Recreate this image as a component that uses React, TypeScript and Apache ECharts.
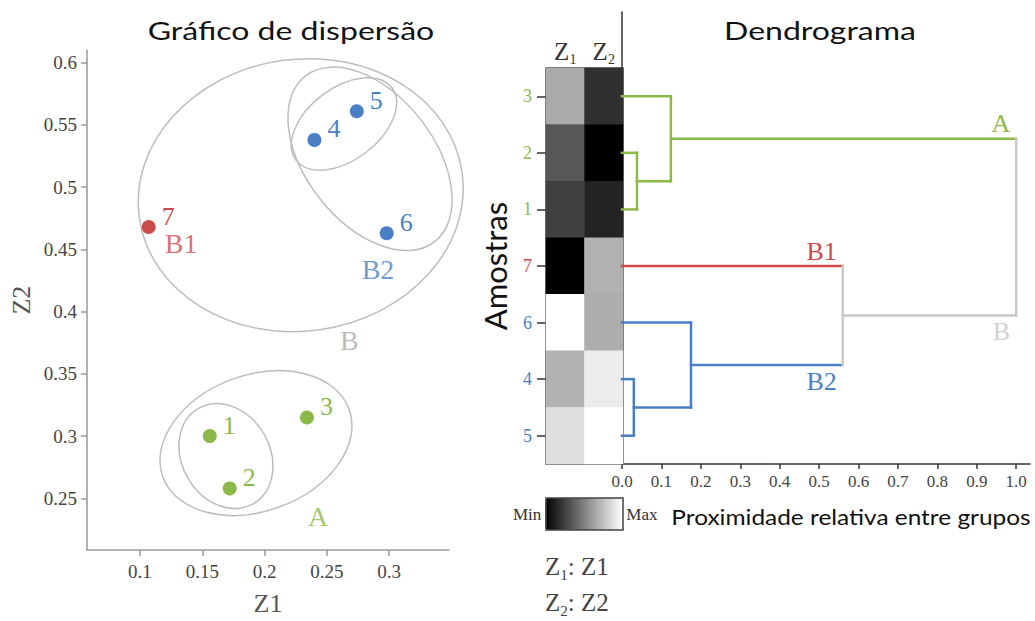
import React, { useEffect, useRef } from 'react';
import * as echarts from 'echarts';

const SERIF = 'Liberation Serif';
const SANS = 'Lato';

// Samples in the (Z1, Z2) plane
const sampleIds = ['1', '2', '3', '4', '5', '6', '7'];
const z1Values = [0.156, 0.172, 0.234, 0.24, 0.274, 0.298, 0.107];
const z2Values = [0.3, 0.258, 0.315, 0.538, 0.561, 0.463, 0.468];
const sampleGroups = ['A', 'A', 'A', 'B2', 'B2', 'B2', 'B1'];

const z1Ticks = [0.1, 0.15, 0.2, 0.25, 0.3];
const z2Ticks = [0.25, 0.3, 0.35, 0.4, 0.45, 0.5, 0.55, 0.6];

// Cluster outlines: centre (Z1, Z2), semi-axes in Z1 units, tilt in degrees
const outlineCenters = [
  [0.229, 0.4936],
  [0.2846, 0.5228],
  [0.2637, 0.5508],
  [0.1931, 0.2944],
  [0.169, 0.284],
];
const outlineAxes = [
  [0.1308, 0.1091],
  [0.0843, 0.0514],
  [0.0482, 0.0289],
  [0.0795, 0.0546],
  [0.0441, 0.0353],
];
const outlineTilt = [8, -52, 37, 20, -60];

// Cluster names placed in the scatter plane
const clusterLabelNames = ['B1', 'B2', 'B', 'A'];
const clusterLabelZ1 = [0.133, 0.291, 0.268, 0.243];
const clusterLabelZ2 = [0.4548, 0.434, 0.377, 0.2356];

// Dendrogram: leaf order (top to bottom) and merges
const leafOrder = ['3', '2', '1', '7', '6', '4', '5'];
const mergeIds = ['m21', 'm45', 'A', 'B2', 'B', 'root'];
const mergeChildren = [
  ['2', '1'],
  ['4', '5'],
  ['3', 'm21'],
  ['6', 'm45'],
  ['7', 'B2'],
  ['A', 'B'],
];
const mergeHeights = [0.038, 0.03, 0.124, 0.175, 0.56, 1.0];
const mergeGroups = ['A', 'B2', 'A', 'B2', 'B', 'root'];
const branchLabelNodes = ['A', '7', 'B2', 'B'];
const branchLabelTexts = ['A', 'B1', 'B2', 'B'];
const branchLabelSides = ['top', 'top', 'bottom', 'bottom'];

const distanceTicks = [0, 0.1, 0.2, 0.3, 0.4, 0.5, 0.6, 0.7, 0.8, 0.9, 1.0];
const heatmapColumns = ['Z1', 'Z2'];

const groupColors: Record<string, string> = {
  A: '#8DB84A',
  B1: '#CC4B4B',
  B2: '#4A7FC4',
  B: '#C9C9C9',
  root: '#C9C9C9',
};

function normalise(values: number[]): number[] {
  const mn = Math.min(...values);
  const mx = Math.max(...values);
  return values.map((v) => (v - mn) / (mx - mn));
}

function subscriptText(x: number, y: number, sub: string, tail: string) {
  return {
    type: 'text', x, y,
    style: {
      text: `{z|Z}{s|${sub}}{z|: ${tail}}`,
      align: 'left', verticalAlign: 'middle', textAlign: 'left', textVerticalAlign: 'middle',
      rich: {
        z: { fontFamily: SERIF, fontSize: 25, fill: '#444', color: '#444' },
        s: { fontFamily: SERIF, fontSize: 15, fill: '#444', color: '#444', verticalAlign: 'bottom', padding: [17, 0, 0, 0] },
      },
    },
  };
}

function buildOption() {
  const groupOf = (id: string) => sampleGroups[sampleIds.indexOf(id)];

  // scatter points
  const points = sampleIds.map((id, i) => ({
    name: id,
    value: [z1Values[i], z2Values[i]],
    itemStyle: { color: groupColors[sampleGroups[i]], opacity: 1 },
    label: { color: groupColors[sampleGroups[i]] },
  }));

  const outlines = outlineCenters.map((c, i) => [
    c[0],
    c[1],
    outlineAxes[i][0],
    outlineAxes[i][1],
    outlineTilt[i],
  ]);

  const clusterLabels = clusterLabelNames.map((n, i) => ({
    name: n,
    value: [clusterLabelZ1[i], clusterLabelZ2[i]],
    label: { color: n === 'B' ? '#ABABAB' : groupColors[n] },
  }));

  // heatmap cells, each column scaled between its own min and max
  const n1 = normalise(z1Values);
  const n2 = normalise(z2Values);
  const heatData: number[][] = [];
  leafOrder.forEach((id, row) => {
    const i = sampleIds.indexOf(id);
    heatData.push([0, row, n1[i]]);
    heatData.push([1, row, n2[i]]);
  });

  // dendrogram segments
  const nodeY: Record<string, number> = {};
  const nodeH: Record<string, number> = {};
  const nodeGroup: Record<string, string> = {};
  leafOrder.forEach((id, row) => {
    nodeY[id] = row;
    nodeH[id] = 0;
    nodeGroup[id] = groupOf(id);
  });
  mergeIds.forEach((id, k) => {
    const [a, b] = mergeChildren[k];
    nodeY[id] = (nodeY[a] + nodeY[b]) / 2;
    nodeH[id] = mergeHeights[k];
    nodeGroup[id] = mergeGroups[k];
  });
  type Seg = {
    x1: number; y1: number; x2: number; y2: number;
    color: string; label?: string; side?: string; labelColor?: string;
  };
  const segs: Seg[] = [];
  mergeIds.forEach((id, k) => {
    const H = mergeHeights[k];
    mergeChildren[k].forEach((c) => {
      const li = branchLabelNodes.indexOf(c);
      const col = groupColors[nodeGroup[c]];
      segs.push({
        x1: nodeH[c], y1: nodeY[c], x2: H, y2: nodeY[c], color: col,
        label: li >= 0 ? branchLabelTexts[li] : undefined,
        side: li >= 0 ? branchLabelSides[li] : undefined,
        labelColor: nodeGroup[c] === 'B' ? '#D2D2D2' : col,
      });
    });
    const [a, b] = mergeChildren[k];
    segs.push({ x1: H, y1: nodeY[a], x2: H, y2: nodeY[b], color: groupColors[mergeGroups[k]] });
  });

  const axisGrey = { color: '#9a9a9a', width: 1.5 };
  const dark = { color: '#333', width: 1.5 };

  return {
    animation: false,
    backgroundColor: '#ffffff',
    grid: [
      { left: 87, top: 50.3, width: 362, height: 502.7 },
      { left: 546, top: 68, width: 77, height: 396, show: true, borderColor: '#444', borderWidth: 1.5 },
      { left: 622, top: 12, width: 408, height: 452 },
    ],
    xAxis: [
      {
        gridIndex: 0, type: 'value', min: 0.0575, max: 0.348,
        axisLine: { show: true, onZero: false, lineStyle: axisGrey },
        axisTick: { show: true, length: 6, customValues: z1Ticks, lineStyle: axisGrey },
        axisLabel: { customValues: z1Ticks, color: '#444', fontFamily: SERIF, fontSize: 19, margin: 12 },
        splitLine: { show: false },
        name: 'Z1', nameLocation: 'middle', nameGap: 40,
        nameTextStyle: { fontFamily: SERIF, fontSize: 26, color: '#555' },
      },
      {
        gridIndex: 1, type: 'category', data: heatmapColumns, position: 'top',
        axisLine: { show: false }, axisTick: { show: false },
        axisLabel: {
          margin: 2, interval: 0, hideOverlap: false,
          formatter: (v: string) => `{z|Z}{s|${v.slice(1)}}`,
          rich: {
            z: { fontFamily: SERIF, fontSize: 25, color: '#333' },
            s: { fontFamily: SERIF, fontSize: 14, color: '#333', verticalAlign: 'bottom', padding: [16, 0, 0, 0] },
          },
        },
      },
      {
        gridIndex: 2, type: 'value', min: 0, max: 1.035,
        axisLine: { show: true, onZero: false, lineStyle: dark },
        axisTick: { show: true, length: 5, customValues: distanceTicks, lineStyle: dark },
        axisLabel: {
          customValues: distanceTicks, color: '#444', fontFamily: SERIF, fontSize: 17, margin: 9,
          formatter: (v: number) => v.toFixed(1),
        },
        splitLine: { show: false },
      },
    ],
    yAxis: [
      {
        gridIndex: 0, type: 'value', min: 0.2085, max: 0.61,
        axisLine: { show: true, onZero: false, lineStyle: axisGrey },
        axisTick: { show: true, length: 6, customValues: z2Ticks, lineStyle: axisGrey },
        axisLabel: { customValues: z2Ticks, color: '#444', fontFamily: SERIF, fontSize: 19, margin: 10 },
        splitLine: { show: false },
        name: 'Z2', nameLocation: 'middle', nameGap: 53,
        nameTextStyle: { fontFamily: SERIF, fontSize: 26, color: '#555' },
      },
      {
        gridIndex: 1, type: 'category', data: leafOrder, inverse: true,
        axisLine: { show: false },
        axisTick: { show: true, length: 9, alignWithLabel: true, lineStyle: dark },
        axisLabel: {
          fontFamily: SERIF, fontSize: 18, margin: 14, interval: 0,
          color: (v: string) => groupColors[groupOf(v)],
        },
        name: 'Amostras', nameLocation: 'middle', nameGap: 36, nameRotate: 90,
        nameTextStyle: { fontFamily: SANS, fontSize: 31, color: '#111' },
      },
      {
        gridIndex: 2, type: 'value', min: -1.49, max: 6.5, inverse: true,
        axisLine: { show: true, onZero: false, lineStyle: dark },
        axisTick: { show: false }, axisLabel: { show: false }, splitLine: { show: false },
      },
    ],
    visualMap: {
      type: 'continuous', min: 0, max: 1, seriesIndex: 3,
      orient: 'horizontal', left: 513, top: 498, padding: 0,
      itemWidth: 32, itemHeight: 77, text: ['Max', 'Min'], textGap: 4,
      textStyle: { fontFamily: SERIF, fontSize: 17, color: '#333' },
      inRange: { color: ['#000000', '#ffffff'] },
      calculable: false, hoverLink: false,
    },
    series: [
      {
        type: 'scatter', xAxisIndex: 0, yAxisIndex: 0, silent: true, z: 5,
        symbolSize: 14, data: points,
        label: {
          show: true, position: 'right', distance: 4, offset: [2, -11],
          formatter: '{b}', fontFamily: SERIF, fontSize: 26,
        },
      },
      {
        type: 'custom', xAxisIndex: 0, yAxisIndex: 0, silent: true, z: 2,
        encode: { x: 0, y: 1 }, data: outlines, clip: false,
        renderItem: (params: any, api: any) => {
          const c = api.coord([api.value(0), api.value(1)]);
          const rx = api.size([api.value(2), 0])[0];
          const ry = api.size([api.value(3), 0])[0];
          return {
            type: 'ellipse', x: c[0], y: c[1], rotation: (api.value(4) * Math.PI) / 180,
            shape: { cx: 0, cy: 0, rx, ry },
            style: { fill: 'none', stroke: '#BDBDBD', lineWidth: 1.5 },
          };
        },
      },
      {
        type: 'scatter', xAxisIndex: 0, yAxisIndex: 0, silent: true, z: 4,
        symbolSize: 0, data: clusterLabels,
        label: { show: true, position: 'inside', formatter: '{b}', fontFamily: SERIF, fontSize: 28 },
      },
      {
        type: 'heatmap', xAxisIndex: 1, yAxisIndex: 1, silent: true, data: heatData,
      },
      {
        type: 'custom', xAxisIndex: 2, yAxisIndex: 2, silent: true, clip: false,
        encode: { x: [0, 2], y: [1, 3] },
        data: segs.map((s) => [s.x1, s.y1, s.x2, s.y2]),
        renderItem: (params: any, api: any) => {
          const s = segs[params.dataIndex];
          const p1 = api.coord([s.x1, s.y1]);
          const p2 = api.coord([s.x2, s.y2]);
          const children: any[] = [
            {
              type: 'line',
              shape: { x1: p1[0], y1: p1[1], x2: p2[0], y2: p2[1] },
              style: { stroke: s.color, lineWidth: 2.5, lineCap: 'square' },
            },
          ];
          if (s.label) {
            const top = s.side === 'top';
            children.push({
              type: 'text', x: p2[0] - 6, y: top ? p2[1] - 2 : p2[1] + 3,
              style: {
                text: s.label, fill: s.labelColor, fontFamily: SERIF, fontSize: 26,
                align: 'right', verticalAlign: top ? 'bottom' : 'top',
                textAlign: 'right', textVerticalAlign: top ? 'bottom' : 'top',
              },
            });
          }
          return { type: 'group', children };
        },
      },
    ],
    graphic: [
      {
        type: 'text', x: 291, y: 30, scaleX: 1.28,
        style: { text: 'Gráfico de dispersão', fontFamily: SANS, fontSize: 25, fill: '#111', align: 'center', verticalAlign: 'middle', textAlign: 'center', textVerticalAlign: 'middle' },
      },
      {
        type: 'text', x: 820, y: 30, scaleX: 1.28,
        style: { text: 'Dendrograma', fontFamily: SANS, fontSize: 25, fill: '#111', align: 'center', verticalAlign: 'middle', textAlign: 'center', textVerticalAlign: 'middle' },
      },
      {
        type: 'text', x: 851, y: 516, scaleX: 1.11,
        style: { text: 'Proximidade relativa entre grupos', fontFamily: SANS, fontSize: 22, fill: '#111', align: 'center', verticalAlign: 'middle', textAlign: 'center', textVerticalAlign: 'middle' },
      },
      subscriptText(545, 566, '1', 'Z1'),
      subscriptText(545, 602, '2', 'Z2'),
      {
        type: 'rect', z: 100,
        shape: { x: 546, y: 498, width: 77, height: 32 },
        style: { fill: 'none', stroke: '#444', lineWidth: 1.5 },
      },
    ],
  };
}

export default function App() {
  const ref = useRef<HTMLDivElement>(null);
  useEffect(() => {
    document.body.style.margin = '0';
    if (!ref.current) return;
    const chart = echarts.init(ref.current, null, { renderer: 'svg' });
    chart.setOption(buildOption() as any);
    return () => chart.dispose();
  }, []);
  return <div ref={ref} style={{ width: 1035, height: 621 }} />;
}
